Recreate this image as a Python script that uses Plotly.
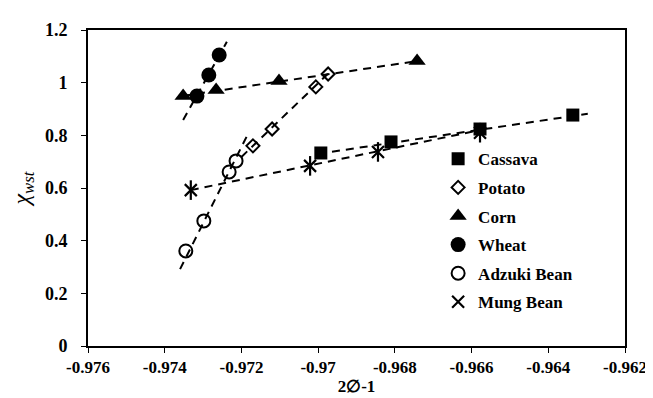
import plotly.graph_objects as go

# ---- data ----
cassava_x = [-0.96993, -0.96810, -0.96578, -0.96336]
cassava_y = [0.733, 0.775, 0.824, 0.877]

potato_x = [-0.97170, -0.97120, -0.97006, -0.96974]
potato_y = [0.760, 0.824, 0.984, 1.033]

corn_x = [-0.97352, -0.97266, -0.97102, -0.96742]
corn_y = [0.949, 0.972, 1.006, 1.082]

wheat_x = [-0.97316, -0.97285, -0.97258]
wheat_y = [0.949, 1.029, 1.105]

adzuki_x = [-0.97345, -0.97298, -0.97232, -0.97214]
adzuki_y = [0.361, 0.475, 0.661, 0.703]

mung_x = [-0.97332, -0.97021, -0.96844, -0.96578]
mung_y = [0.592, 0.684, 0.737, 0.810]

# trendline end points
cassava_tx = [-0.97000, -0.96297]
cassava_ty = [0.730, 0.882]
potato_tx = [-0.97200, -0.96970]
potato_ty = [0.718, 1.040]
corn_tx = [-0.97352, -0.96742]
corn_ty = [0.950, 1.082]
wheat_tx = [-0.97352, -0.97238]
wheat_ty = [0.858, 1.155]
adzuki_tx = [-0.97360, -0.97183]
adzuki_ty = [0.292, 0.805]
mung_tx = [-0.97332, -0.96578]
mung_ty = [0.592, 0.820]

x_ticks = [-0.976, -0.974, -0.972, -0.970, -0.968, -0.966, -0.964, -0.962]
x_tick_labels = ["-0.976", "-0.974", "-0.972", "-0.97", "-0.968", "-0.966", "-0.964", "-0.962"]
y_ticks = [0, 0.2, 0.4, 0.6, 0.8, 1.0, 1.2]
y_tick_labels = ["0", "0.2", "0.4", "0.6", "0.8", "1", "1.2"]

FONT = "Liberation Serif"
BLACK = "#000000"

fig = go.Figure()

series = [
    ("Cassava", cassava_x, cassava_y, dict(symbol="square", size=13, color=BLACK)),
    ("Potato", potato_x, potato_y, dict(symbol="diamond-open", size=10, color=BLACK, line=dict(width=2, color=BLACK))),
    ("Corn", corn_x, corn_y, dict(symbol="triangle-up", size=15, color=BLACK)),
    ("Wheat", wheat_x, wheat_y, dict(symbol="circle", size=15, color=BLACK)),
    ("Adzuki Bean", adzuki_x, adzuki_y, dict(symbol="circle-open", size=13, color=BLACK, line=dict(width=2, color=BLACK))),
    ("Mung Bean", mung_x, mung_y, dict(symbol="x-thin-open", size=12, color=BLACK, line=dict(width=2.2, color=BLACK))),
]
for name, xs, ys, mk in series:
    fig.add_trace(go.Scatter(x=xs, y=ys, mode="markers", name=name, marker=mk,
                             legendgroup=name))

# vertical stroke of the mung bean star marker
fig.add_trace(go.Scatter(x=mung_x, y=mung_y, mode="markers", showlegend=False,
                         legendgroup="Mung Bean",
                         marker=dict(symbol="line-ns-open", size=14, color=BLACK,
                                     line=dict(width=2.2, color=BLACK))))

trends = [
    (cassava_tx, cassava_ty), (potato_tx, potato_ty), (corn_tx, corn_ty),
    (wheat_tx, wheat_ty), (adzuki_tx, adzuki_ty), (mung_tx, mung_ty),
]
for tx, ty in trends:
    fig.add_trace(go.Scatter(x=tx, y=ty, mode="lines", showlegend=False,
                             line=dict(color=BLACK, width=2, dash="8px,6px")))

fig.update_layout(
    width=653, height=398,
    margin=dict(l=80, r=36, t=22, b=60),
    paper_bgcolor="white", plot_bgcolor="white",
    font=dict(family=FONT, color=BLACK, size=17),
    showlegend=True,
    legend=dict(x=0.652, y=0.648, xanchor="left", yanchor="top",
                bgcolor="rgba(0,0,0,0)", borderwidth=0,
                font=dict(family=FONT, size=17, color=BLACK, weight="bold"),
                itemwidth=30, tracegroupgap=3.5, traceorder="grouped"),
)
fig.update_xaxes(
    range=[-0.976, -0.962], tickvals=x_ticks, ticktext=x_tick_labels,
    showgrid=False, zeroline=False, showline=True, linecolor=BLACK, linewidth=2,
    mirror=True, ticks="outside", ticklen=5, tickwidth=1, tickcolor=BLACK,
    tickfont=dict(family=FONT, size=17, color=BLACK, weight="bold"),
    title=dict(text="2∅-1", font=dict(family=FONT, size=17, color=BLACK, weight="bold"), standoff=4),
    automargin=False,
)
fig.update_yaxes(
    range=[0, 1.2], tickvals=y_ticks, ticktext=y_tick_labels,
    showgrid=False, zeroline=False, showline=True, linecolor=BLACK, linewidth=2,
    mirror=True, ticks="outside", ticklen=5, tickwidth=1, tickcolor=BLACK,
    tickfont=dict(family=FONT, size=18, color=BLACK, weight="bold"), ticklabelstandoff=10,
    title=dict(text="<i>χ</i><sub><i>wst</i></sub>", font=dict(family=FONT, size=24, color=BLACK), standoff=10),
    automargin=False,
)

fig.write_html("out.html")
